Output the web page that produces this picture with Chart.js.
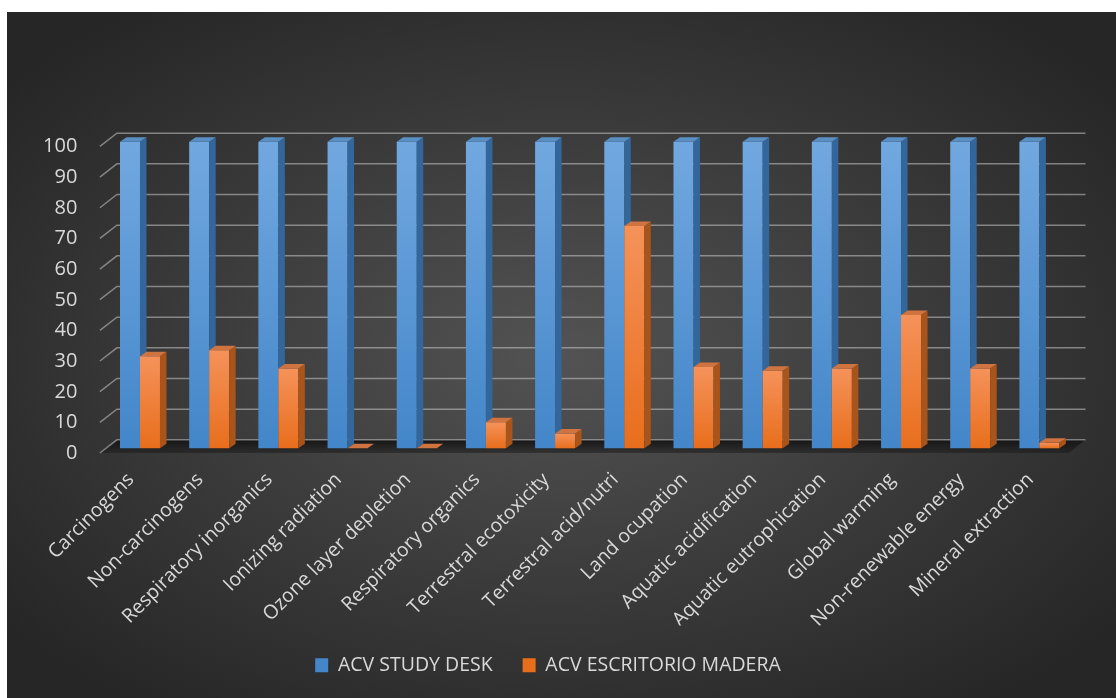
<!DOCTYPE html>
<html>
<head>
<meta charset="utf-8">
<script src="https://cdn.jsdelivr.net/npm/chart.js@4.4.0/dist/chart.umd.min.js"></script>
<style>
  html, body { margin: 0; padding: 0; background: #ffffff; }
  #wrap {
    position: absolute; left: 7px; top: 12px; width: 1109px; height: 686px;
    background: radial-gradient(ellipse farthest-corner at 50% 50%, #535353 0%, #3c3c3c 45%, #262626 90%);
  }
</style>
</head>
<body>
<div id="wrap"><canvas id="chart"></canvas></div>
<script>
// Data
const CATEGORIES = ['Carcinogens', 'Non-carcinogens', 'Respiratory inorganics', 'Ionizing radiation',
  'Ozone layer depletion', 'Respiratory organics', 'Terrestral ecotoxicity', 'Terrestral acid/nutri',
  'Land ocupation', 'Aquatic acidification', 'Aquatic eutrophication', 'Global warming',
  'Non-renewable energy', 'Mineral extraction'];
const STUDY_DESK = [100, 100, 100, 100, 100, 100, 100, 100, 100, 100, 100, 100, 100, 100];
const ESCRITORIO_MADERA = [30, 32, 26, 0, 0, 8.5, 4.8, 72.5, 26.5, 25.3, 26, 43.5, 26, 1.8];
const SERIES_NAMES = ['ACV STUDY DESK', 'ACV ESCRITORIO MADERA'];
const Y_TICKS = [0, 10, 20, 30, 40, 50, 60, 70, 80, 90, 100];

// Colors
const TEXT_COLOR = '#d9d9d9';
const GRID_COLOR = 'rgba(200, 200, 200, 0.55)';
const BLUE = { light: '#72a8e0', dark: '#4386c9', side: '#33669a', top: '#5a8fc4', solid: '#5b9bd5' };
const ORANGE = { light: '#f5925a', dark: '#e86e1c', side: '#a8541a', top: '#cf7340', solid: '#ed7d31' };

// 3D geometry (px)
const BAR_DEPTH_X = 6.5;
const BAR_DEPTH_Y = -4.5;
const WALL_DX = 11.5;
const WALL_DY = -8.5;
const FRONT_DX = -5.5;
const FRONT_DY = 4.7;

const FONT_FAMILY = '"Open Sans", sans-serif';

const frontFill = (c) => (ctx) => {
    const chart = ctx.chart;
    if (ctx.type !== 'data' || !chart.chartArea) return c.solid;
    const y = chart.scales.y;
    const top = y.getPixelForValue(ctx.raw);
    const bottom = y.getPixelForValue(0);
    if (bottom - top < 1) return c.dark;
    const g = chart.ctx.createLinearGradient(0, top, 0, bottom);
    g.addColorStop(0, c.light);
    g.addColorStop(1, c.dark);
    return g;
};

// Back wall gridlines, tick diagonals and floor
const wallAndFloor = {
    id: 'wallAndFloor',
    beforeDatasetsDraw(chart) {
        const { ctx, chartArea } = chart;
        const y = chart.scales.y;
        const L = chartArea.left, R = chartArea.right;
        const y0 = y.getPixelForValue(0);

        ctx.save();
        // floor
        const fg = ctx.createLinearGradient(0, y0 + WALL_DY, 0, y0 + FRONT_DY);
        fg.addColorStop(0, '#161616');
        fg.addColorStop(1, 'rgba(28, 28, 28, 0.5)');
        ctx.fillStyle = fg;
        ctx.beginPath();
        ctx.moveTo(L + WALL_DX, y0 + WALL_DY);
        ctx.lineTo(R + WALL_DX, y0 + WALL_DY);
        ctx.lineTo(R + FRONT_DX, y0 + FRONT_DY);
        ctx.lineTo(L + FRONT_DX, y0 + FRONT_DY);
        ctx.closePath();
        ctx.fill();

        ctx.strokeStyle = GRID_COLOR;
        ctx.lineWidth = 1.5;
        for (const v of Y_TICKS) {
            const py = y.getPixelForValue(v);
            ctx.beginPath();
            ctx.moveTo(L + FRONT_DX, py + FRONT_DY);
            ctx.lineTo(L + WALL_DX, py + WALL_DY);
            ctx.lineTo(R + WALL_DX, py + WALL_DY);
            ctx.stroke();
        }
        ctx.restore();
    }
};

// Bars drawn series by series: front face, then side and top
const bar3d = {
    id: 'bar3d',
    beforeDatasetDraw() {
        return false; // drawn in afterDatasetsDraw, in series order
    },
    afterDatasetsDraw(chart) {
        const { ctx } = chart;
        ctx.save();
        chart.data.datasets.forEach((ds, i) => {
            const meta = chart.getDatasetMeta(i);
            const c = i === 0 ? BLUE : ORANGE;
            for (const bar of meta.data) {
                bar.draw(ctx, chart.chartArea);
                const { x, y, base, width } = bar.getProps(['x', 'y', 'base', 'width'], true);
                const left = x - width / 2, right = x + width / 2;
                // side
                ctx.fillStyle = c.side;
                ctx.beginPath();
                ctx.moveTo(right, y);
                ctx.lineTo(right + BAR_DEPTH_X, y + BAR_DEPTH_Y);
                ctx.lineTo(right + BAR_DEPTH_X, base + BAR_DEPTH_Y);
                ctx.lineTo(right, base);
                ctx.closePath();
                ctx.fill();
                // top
                ctx.fillStyle = c.top;
                ctx.beginPath();
                ctx.moveTo(left, y);
                ctx.lineTo(left + BAR_DEPTH_X, y + BAR_DEPTH_Y);
                ctx.lineTo(right + BAR_DEPTH_X, y + BAR_DEPTH_Y);
                ctx.lineTo(right, y);
                ctx.closePath();
                ctx.fill();
            }
        });
        ctx.restore();
    }
};

const BOTTOM_SPACE = 249.7; // from chart area bottom to canvas bottom
const PAD_BOTTOM = 13;
const PAD_LEFT = 15;

new Chart(document.getElementById('chart'), {
    type: 'bar',
    data: {
        labels: CATEGORIES,
        datasets: [{
            label: SERIES_NAMES[0],
            data: STUDY_DESK,
            backgroundColor: frontFill(BLUE)
        }, {
            label: SERIES_NAMES[1],
            data: ESCRITORIO_MADERA,
            backgroundColor: frontFill(ORANGE)
        }]
    },
    options: {
        responsive: true,
        maintainAspectRatio: false,
        animation: false,
        datasets: {
            bar: { categoryPercentage: 0.578, barPercentage: 1 }
        },
        layout: {
            padding: { top: 129.7, left: PAD_LEFT, right: 42, bottom: PAD_BOTTOM }
        },
        scales: {
            x: {
                grid: { display: false, drawTicks: false },
                border: { display: false },
                ticks: {
                    color: TEXT_COLOR,
                    font: { family: FONT_FAMILY, size: 19.5 },
                    minRotation: 45,
                    maxRotation: 45,
                    autoSkip: false,
                    padding: 20,
                    labelOffset: -9
                },
                afterFit: (scale) => {
                    const legendH = scale.chart.legend ? scale.chart.legend.height : 0;
                    scale.height = BOTTOM_SPACE - legendH - PAD_BOTTOM;
                }
            },
            y: {
                min: 0,
                max: 100,
                grid: { display: false, drawTicks: false },
                border: { display: false },
                afterBuildTicks: (scale) => {
                    scale.ticks = Y_TICKS.map(v => ({ value: v }));
                },
                ticks: {
                    color: TEXT_COLOR,
                    font: { family: FONT_FAMILY, size: 20 },
                    padding: 28,
                    labelOffset: 5
                },
                afterFit: (scale) => { scale.width = 98.4 - PAD_LEFT; }
            }
        },
        plugins: {
            legend: {
                position: 'bottom',
                labels: {
                    color: TEXT_COLOR,
                    font: { family: FONT_FAMILY, size: 19.5 },
                    boxWidth: 13,
                    boxHeight: 14,
                    padding: 30,
                    sort: (a, b) => a.datasetIndex - b.datasetIndex
                }
            },
            tooltip: { enabled: false }
        }
    },
    plugins: [wallAndFloor, bar3d]
});
</script>
</body>
</html>
